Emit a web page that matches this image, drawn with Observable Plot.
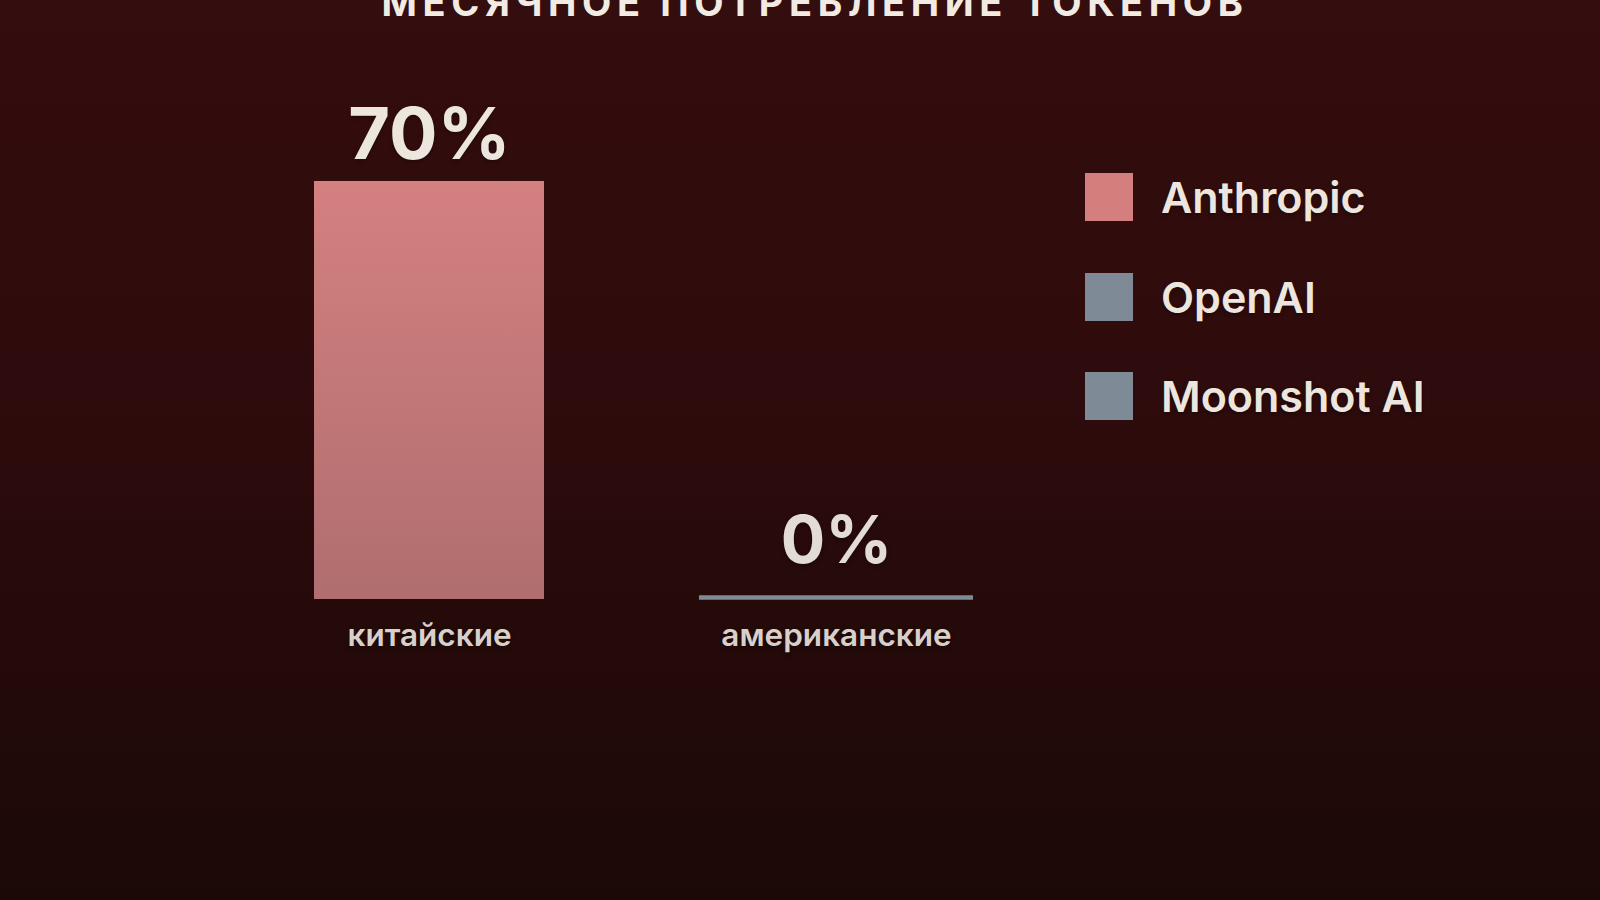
<!DOCTYPE html>
<html>
<head>
<meta charset="utf-8">
<script src="https://cdn.jsdelivr.net/npm/d3@7"></script>
<script src="https://cdn.jsdelivr.net/npm/@observablehq/plot@0.6"></script>
<style>
  html, body { margin: 0; padding: 0; }
  body {
    width: 1600px; height: 900px; overflow: hidden; position: relative;
    background: linear-gradient(180deg, #340d0e 0%, #2e0b0c 45%, #250a0a 70%, #1b0908 100%);
    font-family: Inter, "Noto Sans", sans-serif;
  }
  #title {
    position: absolute; left: 0; width: 1630px; top: -17px;
    text-align: center; font-size: 38px; line-height: 38px; font-weight: 700;
    letter-spacing: 5.6px; color: #f1ebe4; white-space: nowrap;
  }
  #chart { position: absolute; left: 0; top: 0; }
  #chart svg { background: transparent; overflow: visible; }
  #chart svg text { text-shadow: 0 2px 4px rgba(0,0,0,0.35); }
  #legend { position: absolute; left: 1085px; top: 171px; }
  #legend .lg-swatches { font-family: Inter, sans-serif; font-size: 43px; font-weight: 600; color: #ece6df; margin: 0; }
  #legend .lg-swatch { padding-bottom: 47.5px; text-shadow: 0 2px 4px rgba(0,0,0,0.35); }
  #legend .lg-swatch > svg { margin-right: 28px; }
</style>
</head>
<body>
<div id="title">МЕСЯЧНОЕ ПОТРЕБЛЕНИЕ ТОКЕНОВ</div>
<div id="chart"></div>
<div id="legend"></div>
<script>
// data
const categories = ["китайские", "американские"];
const shares = [70, 0];
const barCompany = ["Anthropic", "OpenAI"];
const companies = ["Anthropic", "OpenAI", "Moonshot AI"];
const companyColors = ["#d47e7e", "#7e8b96"];
const companyColorsAll = [companyColors[0], companyColors[1], companyColors[1]];

const data = categories.map((c, i) => ({category: c, value: shares[i], company: barCompany[i]}));
const nonZero = data.filter(d => d.value > 0);
const zero = data.filter(d => d.value === 0);

const chart = Plot.plot({
  width: 1600,
  height: 900,
  marginTop: 181,
  marginBottom: 301,
  marginLeft: 292,
  marginRight: 627,
  style: {fontFamily: "Inter, sans-serif", background: "transparent", overflow: "visible"},
  x: {type: "band", domain: categories, paddingInner: 0.327, paddingOuter: 0, axis: null},
  y: {domain: [0, 70], axis: null},
  color: {domain: companies, range: companyColorsAll},
  marks: [
    Plot.barY(nonZero, {x: "category", y: "value", fill: "url(#barGrad)", insetLeft: 22, insetRight: 22}),
    Plot.tickY(zero, {x: "category", y: "value", stroke: "company", strokeWidth: 4.5, dy: -2}),
    Plot.text(nonZero, {x: "category", y: "value", text: d => d.value + "%", dy: -23, lineAnchor: "bottom",
      fontSize: 72, fontWeight: 700, fill: "#ece6df"}),
    Plot.text(zero, {x: "category", y: "value", text: d => d.value + "%", dy: -37, lineAnchor: "bottom",
      fontSize: 66, fontWeight: 700, fill: "#e3dcd6"}),
    Plot.text(data, {x: "category", text: "category", frameAnchor: "bottom", dy: 46, lineAnchor: "bottom",
      fontSize: 31.5, fontWeight: 600, fill: "#d9d0ca"})
  ]
});

const defs = d3.select(chart).insert("defs", ":first-child");
const grad = defs.append("linearGradient").attr("id", "barGrad").attr("x1", 0).attr("y1", 0).attr("x2", 0).attr("y2", 1);
grad.append("stop").attr("offset", "0%").attr("stop-color", "#d48080");
grad.append("stop").attr("offset", "100%").attr("stop-color", "#b06e6f");

document.getElementById("chart").appendChild(chart);

const legend = Plot.legend({
  color: {domain: companies, range: companyColorsAll},
  legend: "swatches",
  columns: 1,
  swatchSize: 48,
  className: "lg"
});
document.getElementById("legend").appendChild(legend);
</script>
</body>
</html>
